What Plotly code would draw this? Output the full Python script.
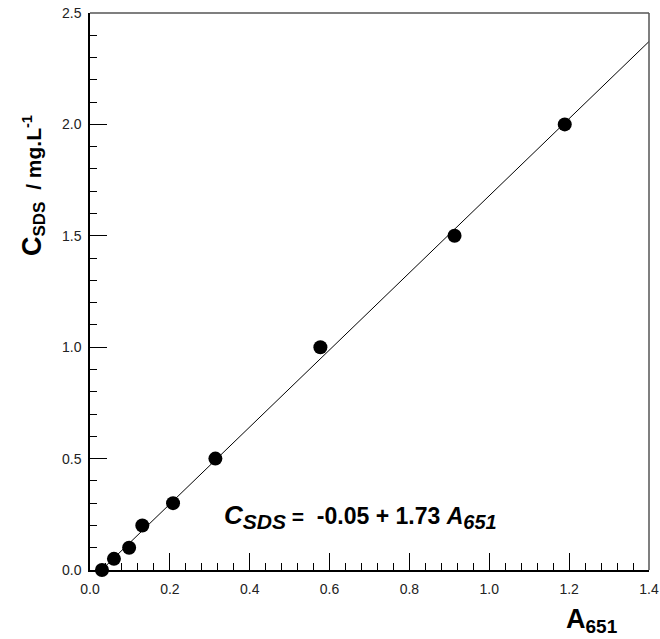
import numpy as np
import plotly.graph_objects as go

# Calibration data: absorbance at 651 nm vs SDS concentration
absorbance = [0.030, 0.060, 0.098, 0.131, 0.208, 0.314, 0.577, 0.913, 1.189]
conc_sds = [0.00, 0.05, 0.10, 0.20, 0.30, 0.50, 1.00, 1.50, 2.00]

# Fitted calibration line  C = a + b*A
fit_intercept = -0.05
fit_slope = 1.73
fit_x = [(0 - fit_intercept) / fit_slope, 1.4]
fit_y = [fit_intercept + fit_slope * v for v in fit_x]

font_family = "Liberation Sans, Arial, sans-serif"

fig = go.Figure()
fig.add_trace(go.Scatter(x=fit_x, y=fit_y, mode="lines",
                         line=dict(color="black", width=1), showlegend=False,
                         hoverinfo="skip"))
fig.add_trace(go.Scatter(x=absorbance, y=conc_sds, mode="markers",
                         marker=dict(color="black", size=14), showlegend=False,
                         cliponaxis=False))

axis_common = dict(
    showline=True, linecolor="black", linewidth=1.5, mirror=False,
    ticks="inside", ticklen=17, tickwidth=1, tickcolor="black",
    showgrid=False, zeroline=False, automargin=False,
    tickfont=dict(family=font_family, size=14, color="#222"),
)
fig.update_xaxes(range=[0, 1.4], dtick=0.2, tickformat=".1f",
                 minor=dict(ticks="inside", ticklen=7, dtick=0.04, tickcolor="black"),
                 ticklabelstandoff=5, **axis_common)
fig.update_yaxes(range=[0, 2.5], dtick=0.5, tickformat=".1f",
                 minor=dict(ticks="inside", ticklen=7, dtick=0.1, tickcolor="black"),
                 ticklabelstandoff=4, **axis_common)

# Top and right frame lines
fig.add_shape(type="line", xref="paper", yref="paper", x0=0, x1=1, y0=1, y1=1,
              line=dict(color="#555", width=1.5))
fig.add_shape(type="line", xref="paper", yref="paper", x0=1, x1=1, y0=0, y1=1,
              line=dict(color="#555", width=1.5))

# Axis titles
fig.add_annotation(
    text="<b><span style='font-size:27px'>C</span><sub><span style='font-size:17px'>SDS</span></sub>  / mg.L<sup>-1</sup></b>",
    xref="paper", yref="paper", x=-0.103, y=0.56,
    xanchor="center", yanchor="bottom",
    textangle=-90, showarrow=False,
    font=dict(family=font_family, size=21, color="black"))
fig.add_annotation(
    text="<b><span style='font-size:27px'>A</span><sub><span style='font-size:19px'>651</span></sub></b>",
    xref="paper", yref="paper", x=0.848, y=-0.058,
    xanchor="left", yanchor="top",
    showarrow=False,
    font=dict(family=font_family, size=24, color="black"))

# Regression equation
fig.add_annotation(
    text=(f"<b><i><span style='font-size:26px'>C</span>"
          f"<sub><span style='font-size:21px'>SDS</span></sub></i>"
          f"<span style='font-size:21px'> =</span>  "
          f"{fit_intercept:.2f} + {fit_slope:.2f} <i>A"
          f"<sub><span style='font-size:20px'>651</span></sub></i></b>"),
    x=0.33, y=0.24, xanchor="left", showarrow=False,
    font=dict(family=font_family, size=23, color="black"))

fig.update_layout(
    width=660, height=639,
    margin=dict(l=90, r=11, t=13, b=69),
    plot_bgcolor="white", paper_bgcolor="white",
)

fig.write_html("out.html")
